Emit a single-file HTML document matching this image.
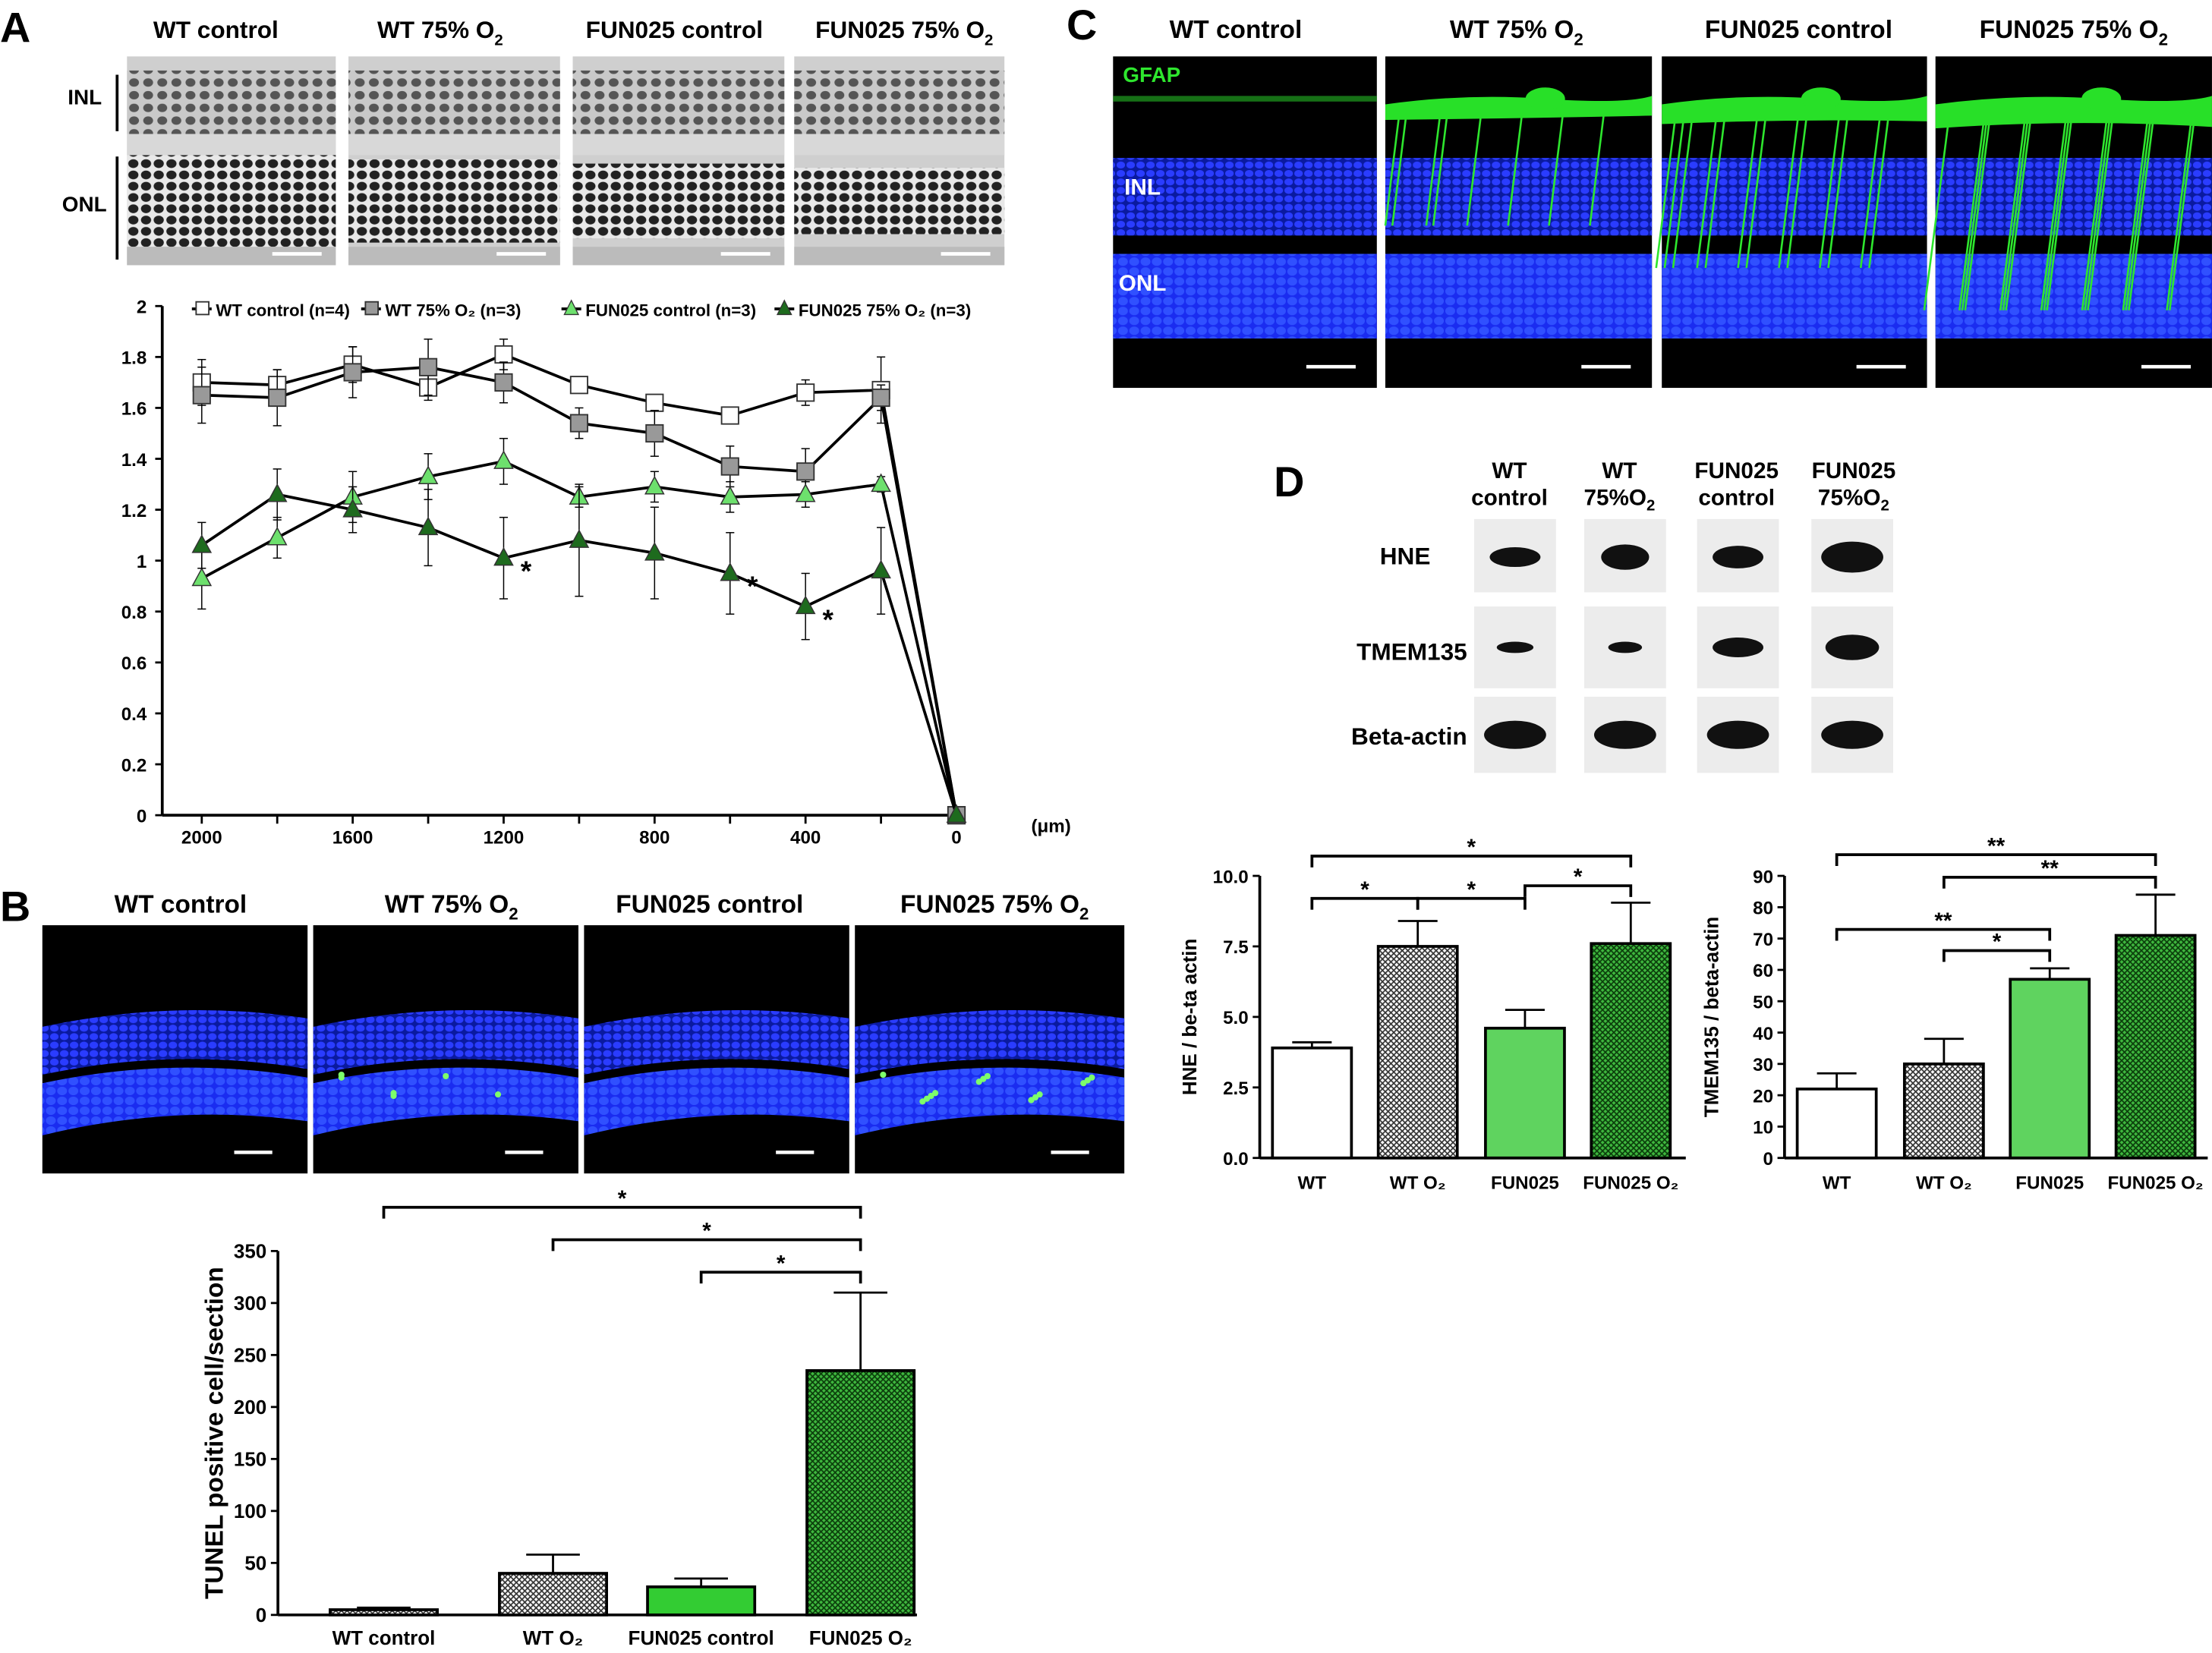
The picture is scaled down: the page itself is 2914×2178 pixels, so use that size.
<!DOCTYPE html>
<html><head><meta charset="utf-8"><style>
html,body{margin:0;padding:0;background:#fff}
svg{display:block;font-family:"Liberation Sans",Arial,sans-serif}
</style></head><body>
<svg id="s" width="2914" height="2178" viewBox="0 0 1568 1172" xmlns="http://www.w3.org/2000/svg">
<defs>
<pattern id="hatch" width="4" height="4" patternUnits="userSpaceOnUse"><rect width="4" height="4" fill="#fff"/><path d="M0 0L4 4M4 0L0 4" stroke="#333" stroke-width="0.9"/></pattern>
<pattern id="ghatch" width="4" height="4" patternUnits="userSpaceOnUse"><rect width="4" height="4" fill="#3fb83f"/><path d="M0 0L4 4M4 0L0 4" stroke="#0b3d0b" stroke-width="0.9"/></pattern>
<pattern id="cells" width="9" height="8" patternUnits="userSpaceOnUse"><rect width="9" height="8" fill="#e8e8e8"/><ellipse cx="4.5" cy="4" rx="3.6" ry="3.1" fill="#222"/></pattern>
<pattern id="cellsL" width="10" height="9" patternUnits="userSpaceOnUse"><rect width="10" height="9" fill="#c9c9c9"/><ellipse cx="5" cy="4.5" rx="3.5" ry="3" fill="#555"/></pattern>
<pattern id="bnuc" width="7" height="6" patternUnits="userSpaceOnUse"><rect width="7" height="6" fill="#0a1aa0"/><ellipse cx="3.5" cy="3" rx="3" ry="2.5" fill="#2a3cff"/></pattern>
<pattern id="bnuc2" width="8" height="7" patternUnits="userSpaceOnUse"><rect width="8" height="7" fill="#1a2cf0"/><ellipse cx="4" cy="3.5" rx="3.5" ry="3" fill="#3050ff"/></pattern>
</defs>

<g font-weight="bold" font-size="30">
<text x="0" y="30">A</text><text x="0" y="653">B</text><text x="756" y="28">C</text><text x="903" y="352">D</text>
</g>

<g id="aimg"></g>
<g font-weight="bold" font-size="17">
<text x="153" y="27" text-anchor="middle">WT control</text>
<text x="312" y="27" text-anchor="middle">WT 75% O<tspan font-size="11" dy="5">2</tspan></text>
<text x="478" y="27" text-anchor="middle">FUN025 control</text>
<text x="641" y="27" text-anchor="middle">FUN025 75% O<tspan font-size="11" dy="5">2</tspan></text>
<text x="48" y="74" font-size="15">INL</text><text x="44" y="150" font-size="15">ONL</text>
</g>
<line x1="83" y1="53" x2="83" y2="93" stroke="#000" stroke-width="2"/>
<line x1="83" y1="111" x2="83" y2="184" stroke="#000" stroke-width="2"/>

<g id="lineA"></g>

<g id="bimg"></g>
<g font-weight="bold" font-size="18">
<text x="128" y="647" text-anchor="middle">WT control</text>
<text x="320" y="647" text-anchor="middle">WT 75% O<tspan font-size="12" dy="5">2</tspan></text>
<text x="503" y="647" text-anchor="middle">FUN025 control</text>
<text x="705" y="647" text-anchor="middle">FUN025 75% O<tspan font-size="12" dy="5">2</tspan></text>
</g>
<g id="barB"></g>

<g id="cimg"></g>
<g font-weight="bold" font-size="18">
<text x="876" y="27" text-anchor="middle">WT control</text>
<text x="1075" y="27" text-anchor="middle">WT 75% O<tspan font-size="12" dy="5">2</tspan></text>
<text x="1275" y="27" text-anchor="middle">FUN025 control</text>
<text x="1470" y="27" text-anchor="middle">FUN025 75% O<tspan font-size="12" dy="5">2</tspan></text>
</g>

<g id="blots"></g>
<g font-weight="bold" font-size="16" text-anchor="middle">
<text x="1070" y="339">WT</text><text x="1070" y="358">control</text>
<text x="1148" y="339">WT</text><text x="1148" y="358">75%O<tspan font-size="11" dy="4">2</tspan></text>
<text x="1231" y="339">FUN025</text><text x="1231" y="358">control</text>
<text x="1314" y="339">FUN025</text><text x="1314" y="358">75%O<tspan font-size="11" dy="4">2</tspan></text>
</g>
<g font-weight="bold" font-size="17" text-anchor="end">
<text x="1014" y="400">HNE</text><text x="1040" y="468">TMEM135</text><text x="1040" y="528">Beta-actin</text>
</g>
<g id="barD1"></g>
<g id="barD2"></g>
</svg>
<script>
const NS="http://www.w3.org/2000/svg";
function mk(p,t,a,txt){const e=document.createElementNS(NS,t);for(const k in a)e.setAttribute(k,a[k]);if(txt!==undefined)e.textContent=txt;p.appendChild(e);return e;}

const distances=[2000,1800,1600,1400,1200,1000,800,600,400,200,0];
const wtControl=[1.70,1.69,1.77,1.68,1.81,1.69,1.62,1.57,1.66,1.67,0];
const wtControlErr=[0.09,0.06,0.07,0.05,0.06,0.03,0.03,0.02,0.05,0.13,0];
const wt75=[1.65,1.64,1.74,1.76,1.70,1.54,1.50,1.37,1.35,1.64,0];
const wt75Err=[0.11,0.11,0.10,0.11,0.08,0.06,0.09,0.08,0.09,0.05,0];
const funControl=[0.93,1.09,1.25,1.33,1.39,1.25,1.29,1.25,1.26,1.30,0];
const funControlErr=[0.12,0.08,0.10,0.09,0.09,0.04,0.06,0.06,0.05,0.03,0];
const fun75=[1.06,1.26,1.20,1.13,1.01,1.08,1.03,0.95,0.82,0.96,0];
const fun75Err=[0.09,0.10,0.09,0.15,0.16,0.22,0.18,0.16,0.13,0.17,0];
const yTicksA=[0,0.2,0.4,0.6,0.8,1,1.2,1.4,1.6,1.8,2];
const xTicksA=[2000,1600,1200,800,400,0];
const starIdx=[4,7,8];

const bCats=["WT control","WT O2","FUN025 control","FUN025 O2"];
const bVals=[5,40,27,235];
const bErr=[2,18,8,75];
const bTicks=[0,50,100,150,200,250,300,350];

const dCats=["WT","WT O2","FUN025","FUN025 O2"];
const hneVals=[3.9,7.5,4.6,7.6];
const hneErr=[0.2,0.9,0.65,1.45];
const hneTicks=[0,2.5,5,7.5,10];
const tmemVals=[22,30,57,71];
const tmemErr=[5,8,3.5,13];
const tmemTicks=[0,10,20,30,40,50,60,70,80,90];

(function(){const g=document.getElementById('aimg');
[[90,238],[247,397],[406,556],[563,712]].forEach((b,i)=>{
 const w=b[1]-b[0];
 mk(g,'rect',{x:b[0],y:40,width:w,height:148,fill:'#cfcfcf'});
 const r=mk(g,'rect',{x:b[0],y:50,width:w,height:45,fill:'url(#cellsL)'});
 
 mk(g,'rect',{x:b[0],y:95,width:w,height:15,fill:'#d8d8d8'});
 mk(g,'rect',{x:b[0],y:110+i*3,width:w,height:65-i*6,fill:'url(#cells)'});
 mk(g,'rect',{x:b[0],y:175,width:w,height:13,fill:'#bbb'});
 mk(g,'line',{x1:b[1]-45,x2:b[1]-10,y1:180,y2:180,stroke:'#fff','stroke-width':2.5});
});})();

(function(){const g=document.getElementById('lineA');
 const x=v=>678-v*0.2675, y=v=>578-v*180.5;
 mk(g,'line',{x1:115,y1:y(2),x2:115,y2:y(0),stroke:'#000','stroke-width':2});
 mk(g,'line',{x1:115,y1:y(0),x2:680,y2:y(0),stroke:'#000','stroke-width':2});
 yTicksA.forEach(t=>{mk(g,'line',{x1:115,x2:110,y1:y(t),y2:y(t),stroke:'#000','stroke-width':1.5});
  const e=mk(g,'text',{x:104,y:y(t)+5,'text-anchor':'end','font-size':13,'font-weight':'bold'},String(t));
  });
 distances.forEach(d=>mk(g,'line',{x1:x(d),x2:x(d),y1:y(0),y2:y(0)+6,stroke:'#000','stroke-width':1.5}));
 xTicksA.forEach(t=>{const e=mk(g,'text',{x:x(t),y:598,'text-anchor':'middle','font-size':13,'font-weight':'bold'},String(t));
  });
 mk(g,'text',{x:731,y:590,'font-size':13,'font-weight':'bold'},'(μm)');
 const series=[[wtControl,wtControlErr,'sq','#fff'],[wt75,wt75Err,'sq','#999'],[funControl,funControlErr,'tri','#6de06d'],[fun75,fun75Err,'tri','#1e6b1e']];
 series.forEach(s=>{const sg=mk(g,'g',{});
  
  s[0].forEach((v,i)=>{if(s[1][i]){mk(sg,'line',{x1:x(distances[i]),x2:x(distances[i]),y1:y(v-s[1][i]),y2:y(v+s[1][i]),stroke:'#000','stroke-width':0.8});
   [v-s[1][i],v+s[1][i]].forEach(w=>mk(sg,'line',{x1:x(distances[i])-3,x2:x(distances[i])+3,y1:y(w),y2:y(w),stroke:'#000','stroke-width':0.8}));}});
  mk(sg,'polyline',{points:s[0].map((v,i)=>x(distances[i])+','+y(v)).join(' '),fill:'none',stroke:'#000','stroke-width':2});
  s[0].forEach((v,i)=>{const cx=x(distances[i]),cy=y(v);let m;
   if(s[2]=='sq')m=mk(sg,'rect',{x:cx-6,y:cy-6,width:12,height:12,fill:s[3],stroke:'#333','stroke-width':1});
   else m=mk(sg,'polygon',{points:`${cx},${cy-7} ${cx-6.5},${cy+5} ${cx+6.5},${cy+5}`,fill:s[3],stroke:'#333','stroke-width':0.8});
   });
 });
 starIdx.forEach(i=>mk(g,'text',{x:x(distances[i])+12,y:y(fun75[i])+16,'font-size':20,'font-weight':'bold'},'*'));
 const lg=mk(g,'g',{'font-size':12,'font-weight':'bold'});
 
 const L=[[136,'WT control (n=4)','sq','#fff'],[256,'WT 75% O₂ (n=3)','sq','#999'],[398,'FUN025 control (n=3)','tri','#6de06d'],[549,'FUN025 75% O₂ (n=3)','tri','#1e6b1e']];
 L.forEach(l=>{const e=mk(lg,'g',{});
  mk(e,'line',{x1:l[0],x2:l[0]+14,y1:219,y2:219,stroke:'#000','stroke-width':2});
  if(l[2]=='sq')mk(e,'rect',{x:l[0]+3,y:214,width:9,height:9,fill:l[3],stroke:'#333'});
  else mk(e,'polygon',{points:`${l[0]+7},213 ${l[0]+2},223 ${l[0]+12},223`,fill:l[3],stroke:'#333','stroke-width':0.7});
  mk(e,'text',{x:l[0]+17,y:224},l[1]);});
})();

(function(){const g=document.getElementById('bimg');
 [[30,218],[222,410],[414,602],[606,797]].forEach((b,i)=>{const w=b[1]-b[0];
  mk(g,'rect',{x:b[0],y:656,width:w,height:176,fill:'#000'});
  mk(g,'path',{d:`M${b[0]} 728 Q${b[0]+w/2} 708 ${b[1]} 722 L${b[1]} 758 Q${b[0]+w/2} 742 ${b[0]} 762Z`,fill:'url(#bnuc)'});
  mk(g,'path',{d:`M${b[0]} 768 Q${b[0]+w/2} 748 ${b[1]} 764 L${b[1]} 795 Q${b[0]+w/2} 782 ${b[0]} 805Z`,fill:'url(#bnuc2)'});
  if(i==1||i==3)for(let k=0;k<(i==3?14:6);k++)mk(g,'circle',{cx:b[0]+20+((k*37)%(w-40)),cy:762+((k*13)%25),r:2.2,fill:'#7dff6a'});
  mk(g,'line',{x1:b[1]-52,x2:b[1]-25,y1:817,y2:817,stroke:'#fff','stroke-width':2.5});
 });})();

function barChart(gid,cats,vals,errs,ticks,o){const g=document.getElementById(gid);
 const y=v=>o.y0-(v-ticks[0])/(ticks[ticks.length-1]-ticks[0])*(o.y0-o.y1);
 mk(g,'line',{x1:o.ax,x2:o.ax,y1:o.y1,y2:o.y0,stroke:'#000','stroke-width':2});
 mk(g,'line',{x1:o.ax,x2:o.ax2,y1:o.y0,y2:o.y0,stroke:'#000','stroke-width':2});
 ticks.forEach(t=>{mk(g,'line',{x1:o.ax,x2:o.ax-5,y1:y(t),y2:y(t),stroke:'#000','stroke-width':1.5});
  const e=mk(g,'text',{x:o.ax-8,y:y(t)+5,'text-anchor':'end','font-size':o.fs,'font-weight':'bold'},o.fmt?o.fmt(t):String(t));
  });
 vals.forEach((v,i)=>{const cx=o.cx[i];
  mk(g,'line',{x1:cx,x2:cx,y1:y(v),y2:y(v+errs[i]),stroke:'#000','stroke-width':1.5});
  mk(g,'line',{x1:cx-o.bw/4,x2:cx+o.bw/4,y1:y(v+errs[i]),y2:y(v+errs[i]),stroke:'#000','stroke-width':1.5});
  const r=mk(g,'rect',{x:cx-o.bw/2,y:y(v),width:o.bw,height:o.y0-y(v),fill:o.fills[i],stroke:'#000','stroke-width':2});
  
  const lab=cats[i].replace(' O2',' O₂');
  const e=mk(g,'text',{x:cx,y:o.y0+o.ly,'text-anchor':'middle','font-size':o.fs,'font-weight':'bold'},lab);
  });
 const t=mk(g,'text',{x:0,y:0,'font-size':o.tfs,'font-weight':'bold','text-anchor':'middle',transform:`translate(${o.tx},${(o.y0+o.y1)/2}) rotate(-90)`},o.title);
 
 (o.sig||[]).forEach(s=>{const x1=o.cx[s[0]],x2=o.cx[s[1]];
  mk(g,'path',{d:`M${x1} ${s[2]+8}V${s[2]}H${x2}V${s[2]+8}`,fill:'none',stroke:'#000','stroke-width':2});
  mk(g,'text',{x:(x1+x2)/2,y:s[2]-1,'text-anchor':'middle','font-size':16,'font-weight':'bold'},s[3]);});
 return g;}

barChart('barB',bCats,bVals,bErr,bTicks,{ax:197,ax2:650,y0:1145,y1:887,bw:76,cx:[272,392,497,610],fs:14,ly:21,tfs:18,tx:158,title:'TUNEL positive cell/section',
 fills:['url(#hatch)','url(#hatch)','#33cc33','url(#ghatch)'],sig:[[0,3,856,'*'],[1,3,879,'*'],[2,3,902,'*']]});

(function(){const g=document.getElementById('cimg');
 [[789,976],[982,1171],[1178,1366],[1372,1568]].forEach((b,i)=>{const w=b[1]-b[0];
  mk(g,'rect',{x:b[0],y:40,width:w,height:235,fill:'#000'});
  mk(g,'rect',{x:b[0],y:112,width:w,height:55,fill:'url(#bnuc)'});
  mk(g,'rect',{x:b[0],y:180,width:w,height:60,fill:'url(#bnuc2)'});
  if(i>0){
   for(let k=0;k<(i*5+3);k++){const sx=b[0]+10+((k*29)%(w-20));mk(g,'line',{x1:sx,y1:80,x2:sx-6-i*4,y2:130+i*30,stroke:'#2ee62e','stroke-width':1.4});}
   mk(g,'path',{d:`M${b[0]} 74 Q${b[0]+w*0.3} 66 ${b[0]+w*0.6} 70 T${b[1]} 68 L${b[1]} ${78+i*4} Q${b[0]+w/2} 84 ${b[0]} ${82+i*3}Z`,fill:'#28e028'});
   mk(g,'ellipse',{cx:b[0]+w*0.6,cy:70,rx:14,ry:8,fill:'#28e028'});}
  else{mk(g,'rect',{x:b[0],y:68,width:w,height:4,fill:'#1c8c1c',opacity:0.8});}
  mk(g,'line',{x1:b[1]-50,x2:b[1]-15,y1:260,y2:260,stroke:'#fff','stroke-width':2.5});
 });
 const t1=mk(g,'text',{x:796,y:58,'font-size':15,'font-weight':'bold',fill:'#2ee62e'},'GFAP');
 mk(g,'text',{x:797,y:138,'font-size':16,'font-weight':'bold',fill:'#fff'},'INL');
 mk(g,'text',{x:793,y:206,'font-size':16,'font-weight':'bold',fill:'#fff'},'ONL');
})();

(function(){const g=document.getElementById('blots');
 const cols=[1045,1123,1203,1284], rows=[[368,420],[430,488],[494,548]];
 const sizes=[[18,7,17,9,18,8,22,11],[13,4,12,4,18,7,19,9],[22,10,22,10,22,10,22,10]];
 rows.forEach((r,ri)=>cols.forEach((c,ci)=>{
  mk(g,'rect',{x:c,y:r[0],width:58,height:r[1]-r[0],fill:'#ececec'});
  const e=mk(g,'ellipse',{cx:c+29,cy:(r[0]+r[1])/2+(ri==0?1:0),rx:sizes[ri][ci*2],ry:sizes[ri][ci*2+1],fill:'#111'});
  }));
})();

barChart('barD1',dCats,hneVals,hneErr,hneTicks,{ax:893,ax2:1195,y0:821,y1:621,bw:56,cx:[930,1005,1081,1156],fs:13,ly:22,tfs:14,tx:848,title:'HNE / be-ta actin',
 fmt:t=>t.toFixed(1),fills:['#fff','url(#hatch)','#5fd35f','url(#ghatch)'],sig:[[0,3,607,'*'],[0,1,637,'*'],[1,2,637,'*'],[2,3,628,'*']]});
barChart('barD2',dCats,tmemVals,tmemErr,tmemTicks,{ax:1265,ax2:1565,y0:821,y1:621,bw:56,cx:[1302,1378,1453,1528],fs:13,ly:22,tfs:14,tx:1218,title:'TMEM135 / beta-actin',
 fills:['#fff','url(#hatch)','#5fd35f','url(#ghatch)'],sig:[[0,3,606,'**'],[1,3,622,'**'],[0,2,659,'**'],[1,2,674,'*']]});
</script>
</body></html>
